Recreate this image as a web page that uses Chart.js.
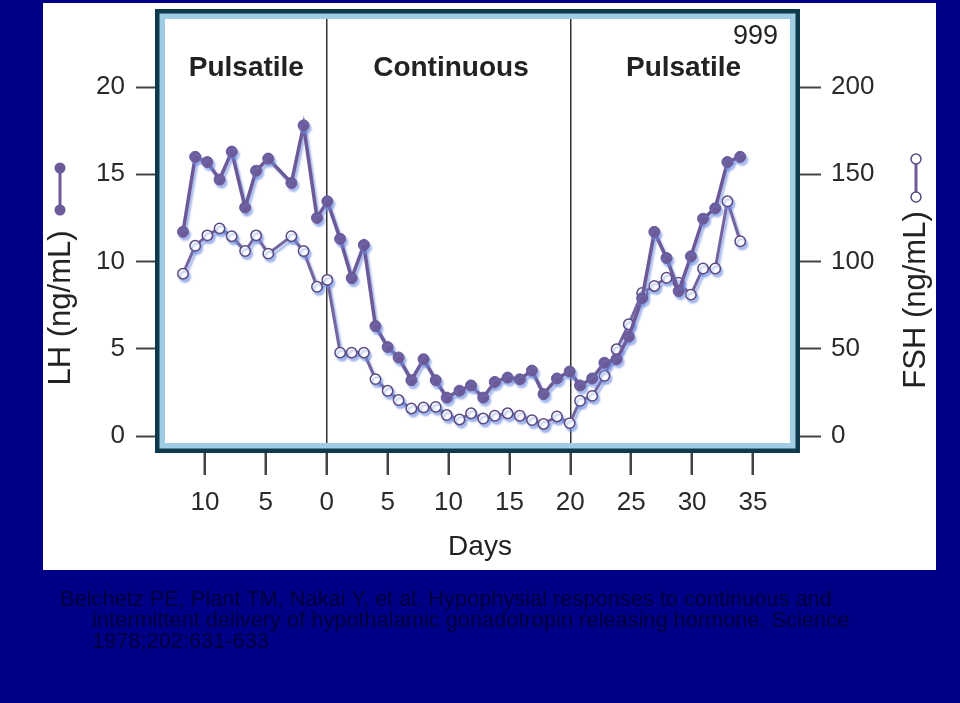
<!DOCTYPE html>
<html>
<head>
<meta charset="utf-8">
<title>LH / FSH pulsatile vs continuous</title>
<script src="https://cdn.jsdelivr.net/npm/chart.js@4.4.0/dist/chart.umd.min.js"></script>
<style>
  html, body { margin: 0; padding: 0; }
  body { width: 960px; height: 703px; background: #000086; position: relative; overflow: hidden; }
  #panel { position: absolute; left: 43px; top: 3px; width: 893px; height: 567px; background: #fff; }
  #myChart { position: absolute; left: 0; top: 0; }
  #cite {
    position: absolute; left: 60px; top: 588px; width: 840px;
    font-family: "Liberation Sans", Arial, sans-serif;
    font-size: 21.8px; line-height: 21px; color: #00003c;
    padding-left: 32px; text-indent: -32px;
  }
</style>
</head>
<body>
<div id="panel"></div>
<canvas id="myChart" width="960" height="703"></canvas>
<div id="cite">Belchetz PE, Plant TM, Nakai Y, et al. Hypophysial responses to continuous and<br>intermittent delivery of hypothalamic gonadotropin releasing hormone. Science<br>1978;202:631-633</div>

<script>
console.log("LH / FSH chart");

// DATA
var days = [-11.8, -10.8, -9.8, -8.8, -7.8, -6.7, -5.8, -4.8, -2.9, -1.9, -0.8, 0.05,
  1.1, 2.05, 3.05, 4.0, 5.0, 5.9, 6.95, 7.95, 8.95, 9.85, 10.9, 11.85, 12.85, 13.8,
  14.85, 15.85, 16.85, 17.8, 18.9, 19.95, 20.8, 21.8, 22.8, 23.8, 24.8, 25.9, 26.9,
  27.9, 28.9, 29.9, 30.9, 31.9, 32.9, 33.95];
var lhValues = [11.7, 16.0, 15.7, 14.7, 16.3, 13.1, 15.2, 15.9, 14.5, 17.8, 12.5, 13.45,
  11.3, 9.05, 10.95, 6.3, 5.1, 4.5, 3.2, 4.4, 3.2, 2.2, 2.6, 2.9, 2.2, 3.1,
  3.35, 3.25, 3.75, 2.4, 3.3, 3.7, 2.9, 3.3, 4.2, 4.4, 5.7, 7.9, 11.7,
  10.2, 8.3, 10.3, 12.45, 13.05, 15.7, 16.0];
var fshValues = [93, 109, 115, 119, 114.5, 106, 115, 104.5, 114.5, 106, 85.5, 89.5,
  47.8, 47.8, 47.8, 32.6, 25.9, 20.6, 15.8, 16.4, 16.7, 12, 9.5, 13, 10, 11.6,
  13, 11.6, 9.1, 6.9, 11.2, 7.4, 20.2, 23, 34.5, 49.7, 64, 82, 86,
  90.7, 87.8, 81, 96, 96, 134.5, 111.6];
var dayTicks = [-10, -5, 0, 5, 10, 15, 20, 25, 30, 35];
var lhTicks = [0, 5, 10, 15, 20];
var fshTicks = [0, 50, 100, 150, 200];
var phaseLines = [0, 20];
var phases = [["Pulsatile", -6.6], ["Continuous", 10.2], ["Pulsatile", 29.3]];

var purple = "#6c5a98";
var font = '"Liberation Sans", Arial, sans-serif';

function toPoints(ys) {
  return days.map(function (d, i) { return { x: d, y: ys[i] }; });
}

// frame, phase labels, axis titles with little key symbols
var extras = {
  id: "extras",
  beforeDatasetsDraw: function (chart) {
    var a = chart.chartArea, c = chart.ctx;
    c.save();
    c.strokeStyle = "#9fcde3";
    c.lineWidth = 6;
    c.strokeRect(a.left + 7, a.top + 7, a.right - a.left - 14, a.bottom - a.top - 14);
    c.strokeStyle = "#0f3a4e";
    c.lineWidth = 4.5;
    c.strokeRect(a.left + 2.25, a.top + 2.25, a.right - a.left - 4.5, a.bottom - a.top - 4.5);

    c.fillStyle = "#222";
    c.font = "bold 28px " + font;
    c.textAlign = "center";
    c.textBaseline = "middle";
    var xs = chart.scales.x;
    phases.forEach(function (p) {
      c.fillText(p[0], xs.getPixelForValue(p[1]), 68);
    });
    c.font = "27px " + font;
    c.textAlign = "right";
    c.fillText("999", 778, 37);
    c.restore();
  },
  beforeDatasetDraw: function (chart) {
    var c = chart.ctx;
    c.save();
    c.shadowColor = "rgba(110,140,225,0.6)";
    c.shadowOffsetX = 2;
    c.shadowOffsetY = 3;
    c.shadowBlur = 2;
  },
  afterDatasetDraw: function (chart) {
    chart.ctx.restore();
  },
  afterDraw: function (chart) {
    var c = chart.ctx;
    c.save();
    c.fillStyle = "#222";
    c.font = "28px " + font;
    c.textAlign = "center";
    c.textBaseline = "middle";
    c.fillText("Days", 480, 547);

    // axis titles
    c.font = "31px " + font;
    c.save();
    c.translate(61, 308);
    c.rotate(-Math.PI / 2);
    c.fillText("LH (ng/mL)", 0, 0);
    c.restore();
    c.save();
    c.translate(916, 300);
    c.rotate(-Math.PI / 2);
    c.fillText("FSH (ng/mL)", 0, 0);
    c.restore();

    // keys
    c.strokeStyle = purple;
    c.lineWidth = 3;
    c.beginPath(); c.moveTo(60, 168); c.lineTo(60, 210); c.stroke();
    c.fillStyle = purple;
    [168, 210].forEach(function (y) {
      c.beginPath(); c.arc(60, y, 5.5, 0, Math.PI * 2); c.fill();
    });
    c.beginPath(); c.moveTo(916, 159); c.lineTo(916, 197); c.stroke();
    c.fillStyle = "#fff";
    c.strokeStyle = "#5a4a80";
    c.lineWidth = 1.5;
    [159, 197].forEach(function (y) {
      c.beginPath(); c.arc(916, y, 5, 0, Math.PI * 2); c.fill(); c.stroke();
    });
    c.restore();
  }
};

var ctx = document.getElementById("myChart");
var myChart = new Chart(ctx, {
  type: "line",
  data: {
    datasets: [{
      label: "LH",
      data: toPoints(lhValues),
      yAxisID: "y",
      borderColor: purple,
      borderWidth: 3.5,
      pointRadius: 5.5,
      pointBackgroundColor: purple,
      pointBorderColor: purple,
      pointBorderWidth: 1
    }, {
      label: "FSH",
      data: toPoints(fshValues),
      yAxisID: "y1",
      borderColor: "#75659f",
      borderWidth: 3,
      pointRadius: 5.2,
      pointBackgroundColor: "#fff",
      pointBorderColor: "#5a4a80",
      pointBorderWidth: 1.5
    }]
  },
  options: {
    responsive: false,
    animation: false,
    devicePixelRatio: 1,
    layout: { padding: { top: 9, left: 0, right: 0, bottom: 0 } },
    plugins: { legend: { display: false }, tooltip: { enabled: false } },
    scales: {
      x: {
        type: "linear",
        min: -14.1,
        max: 38.86,
        afterBuildTicks: function (s) { s.ticks = dayTicks.map(function (v) { return { value: v }; }); },
        afterFit: function (s) { s.height = 250; s.paddingLeft = 0; s.paddingRight = 0; },
        border: { display: false },
        grid: {
          color: function (c) { return c.tick && phaseLines.indexOf(c.tick.value) >= 0 ? "#333" : "rgba(0,0,0,0)"; },
          lineWidth: 1.5,
          tickColor: "#444",
          tickWidth: 2.5,
          tickLength: 22
        },
        ticks: {
          color: "#2a2a2a",
          font: { family: font, size: 26 },
          padding: 12,
          maxRotation: 0,
          callback: function (v) { return Math.abs(v); }
        }
      },
      y: {
        position: "left",
        min: -0.974,
        max: 24.47,
        afterBuildTicks: function (s) { s.ticks = lhTicks.map(function (v) { return { value: v }; }); },
        afterFit: function (s) { s.width = 155; s.paddingTop = 0; s.paddingBottom = 0; },
        border: { display: false },
        grid: { drawOnChartArea: false, tickColor: "#444", tickWidth: 2, tickLength: 19 },
        ticks: { color: "#2a2a2a", font: { family: font, size: 26 }, padding: 11 }
      },
      y1: {
        position: "right",
        min: -9.74,
        max: 244.7,
        afterBuildTicks: function (s) { s.ticks = fshTicks.map(function (v) { return { value: v }; }); },
        afterFit: function (s) { s.width = 160; s.paddingTop = 0; s.paddingBottom = 0; },
        border: { display: false },
        grid: { drawOnChartArea: false, tickColor: "#444", tickWidth: 2, tickLength: 21 },
        ticks: { color: "#2a2a2a", font: { family: font, size: 26 }, padding: 10 }
      }
    }
  },
  plugins: [extras]
});
</script>
</body>
</html>
